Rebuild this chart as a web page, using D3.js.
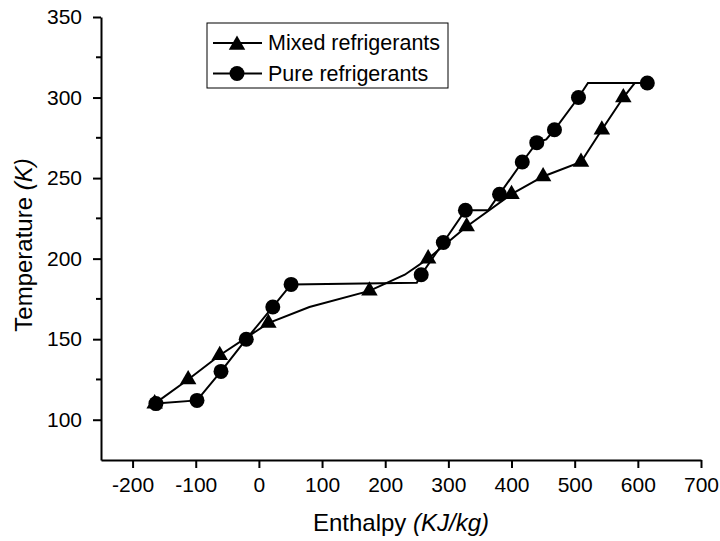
<!DOCTYPE html>
<html>
<head>
<meta charset="utf-8">
<script src="https://cdn.jsdelivr.net/npm/d3@7"></script>
<style>
  body { margin: 0; background: #fff; }
  svg text { font-family: "Liberation Sans", Arial, sans-serif; fill: #000; }
</style>
</head>
<body>
<div id="chart"></div>
<script>
// Mixed refrigerants: line vertices and marker points
var mixedLineH = [-165, -112, -62, 15, 80, 175, 231, 268, 329, 400, 450, 510, 543, 577, 595];
var mixedLineT = [110, 125, 140, 160, 170, 180, 190, 200, 220, 240, 251, 260, 280, 300, 309];
var mixedMarkH = [-165, -112, -62, 15, 175, 268, 329, 400, 450, 510, 543, 577];
var mixedMarkT = [110, 125, 140, 160, 180, 200, 220, 240, 251, 260, 280, 300];

// Pure refrigerants: line vertices and marker points
var pureLineH = [-163, -98, -60, -20, 22, 51, 250, 257, 292, 327, 363, 381, 417, 440, 455, 468, 506, 521, 615];
var pureLineT = [110, 112, 130, 150, 170, 184, 185, 190, 210, 230, 230, 240, 260, 272, 274, 280, 300, 309, 309];
var pureMarkH = [-163, -98, -60, -20, 22, 51, 257, 292, 327, 381, 417, 440, 468, 506, 615];
var pureMarkT = [110, 112, 130, 150, 170, 184, 190, 210, 230, 240, 260, 272, 280, 300, 309];

var xTicks = [-200, -100, 0, 100, 200, 300, 400, 500, 600, 700];
var yTicks = [100, 150, 200, 250, 300, 350];
var yMinorTicks = [125, 175, 225, 275, 325];

var legendNames = ["Mixed refrigerants", "Pure refrigerants"];

var svgWidth = 720;
var svgHeight = 541;
var margin = { top: 17, right: 19, bottom: 81, left: 101 };
var width = svgWidth - margin.left - margin.right;
var height = svgHeight - margin.top - margin.bottom;

var svg = d3.select("#chart")
  .append("svg")
  .attr("width", svgWidth)
  .attr("height", svgHeight);

var chartGroup = svg.append("g")
  .attr("transform", `translate(${margin.left}, ${margin.top})`);

var xScale = d3.scaleLinear().domain([-250, 700]).range([0, width]);
var yScale = d3.scaleLinear().domain([75, 350]).range([height, 0]);

// axes (plain hyphen for negatives, like the original)
var xAxis = d3.axisBottom(xScale).tickValues(xTicks).tickFormat(d => String(d))
  .tickSize(8).tickSizeOuter(0).tickPadding(9);
var yAxis = d3.axisLeft(yScale).tickValues(yTicks).tickFormat(d => String(d))
  .tickSize(8).tickSizeOuter(0).tickPadding(11);

var xG = chartGroup.append("g")
  .attr("transform", `translate(0, ${height})`)
  .call(xAxis);
var yG = chartGroup.append("g").call(yAxis);

yG.selectAll(".minor")
  .data(yMinorTicks)
  .enter()
  .append("line")
  .attr("x1", -5)
  .attr("x2", 0)
  .attr("y1", d => yScale(d))
  .attr("y2", d => yScale(d))
  .attr("stroke", "#000")
  .attr("stroke-width", 2);

[xG, yG].forEach(function(g) {
  g.select(".domain").attr("stroke", "#000").attr("stroke-width", 2);
  g.selectAll(".tick line").attr("stroke", "#000").attr("stroke-width", 2);
  g.selectAll(".tick text")
    .attr("font-family", "Liberation Sans, Arial, sans-serif")
    .attr("font-size", "21px")
    .attr("fill", "#000");
});
xG.selectAll(".tick text").attr("dy", "0.71em");

// axis titles
var xTitle = chartGroup.append("text")
  .attr("x", width / 2)
  .attr("y", height + 71)
  .attr("text-anchor", "middle")
  .attr("font-size", "24px");
xTitle.append("tspan").text("Enthalpy ");
xTitle.append("tspan").attr("font-style", "italic").text("(KJ/kg)");

var yTitle = chartGroup.append("text")
  .attr("transform", `translate(${32 - margin.left}, ${245 - margin.top}) rotate(-90)`)
  .attr("text-anchor", "middle")
  .attr("font-size", "24px");
yTitle.append("tspan").text("Temperature ");
yTitle.append("tspan").attr("font-style", "italic").text("(K)");

// lines
var line = d3.line()
  .x(d => xScale(d[0]))
  .y(d => yScale(d[1]));

var mixedLine = mixedLineH.map((h, i) => [h, mixedLineT[i]]);
var pureLine = pureLineH.map((h, i) => [h, pureLineT[i]]);
var mixedMarks = mixedMarkH.map((h, i) => [h, mixedMarkT[i]]);
var pureMarks = pureMarkH.map((h, i) => [h, pureMarkT[i]]);

chartGroup.append("path")
  .datum(mixedLine)
  .attr("d", line)
  .attr("fill", "none")
  .attr("stroke", "#000")
  .attr("stroke-width", 2);

chartGroup.append("path")
  .datum(pureLine)
  .attr("d", line)
  .attr("fill", "none")
  .attr("stroke", "#000")
  .attr("stroke-width", 2);

// markers
var triangle = d3.symbol().type(d3.symbolTriangle).size(118);

chartGroup.selectAll(".tri")
  .data(mixedMarks)
  .enter()
  .append("path")
  .attr("class", "tri")
  .attr("d", triangle)
  .attr("transform", d => `translate(${xScale(d[0])}, ${yScale(d[1])})`)
  .attr("fill", "#000");

chartGroup.selectAll(".dot")
  .data(pureMarks)
  .enter()
  .append("circle")
  .attr("class", "dot")
  .attr("cx", d => xScale(d[0]))
  .attr("cy", d => yScale(d[1]))
  .attr("r", 7.5)
  .attr("fill", "#000");

// legend
var legend = svg.append("g").attr("transform", "translate(207, 23)");
legend.append("rect")
  .attr("x", 0)
  .attr("y", 0)
  .attr("width", 241)
  .attr("height", 65)
  .attr("fill", "#fff")
  .attr("stroke", "#000")
  .attr("stroke-width", 1);

legendNames.forEach(function(name, i) {
  var cy = 20 + i * 30.5;
  legend.append("line")
    .attr("x1", 6)
    .attr("x2", 55)
    .attr("y1", cy)
    .attr("y2", cy)
    .attr("stroke", "#000")
    .attr("stroke-width", 2);
  if (i === 0) {
    legend.append("path")
      .attr("d", triangle)
      .attr("transform", `translate(30, ${cy + 2})`)
      .attr("fill", "#000");
  } else {
    legend.append("circle")
      .attr("cx", 30)
      .attr("cy", cy)
      .attr("r", 7.5)
      .attr("fill", "#000");
  }
  legend.append("text")
    .attr("x", 61)
    .attr("y", cy + 7)
    .attr("font-size", "21.5px")
    .text(name);
});
</script>
</body>
</html>
